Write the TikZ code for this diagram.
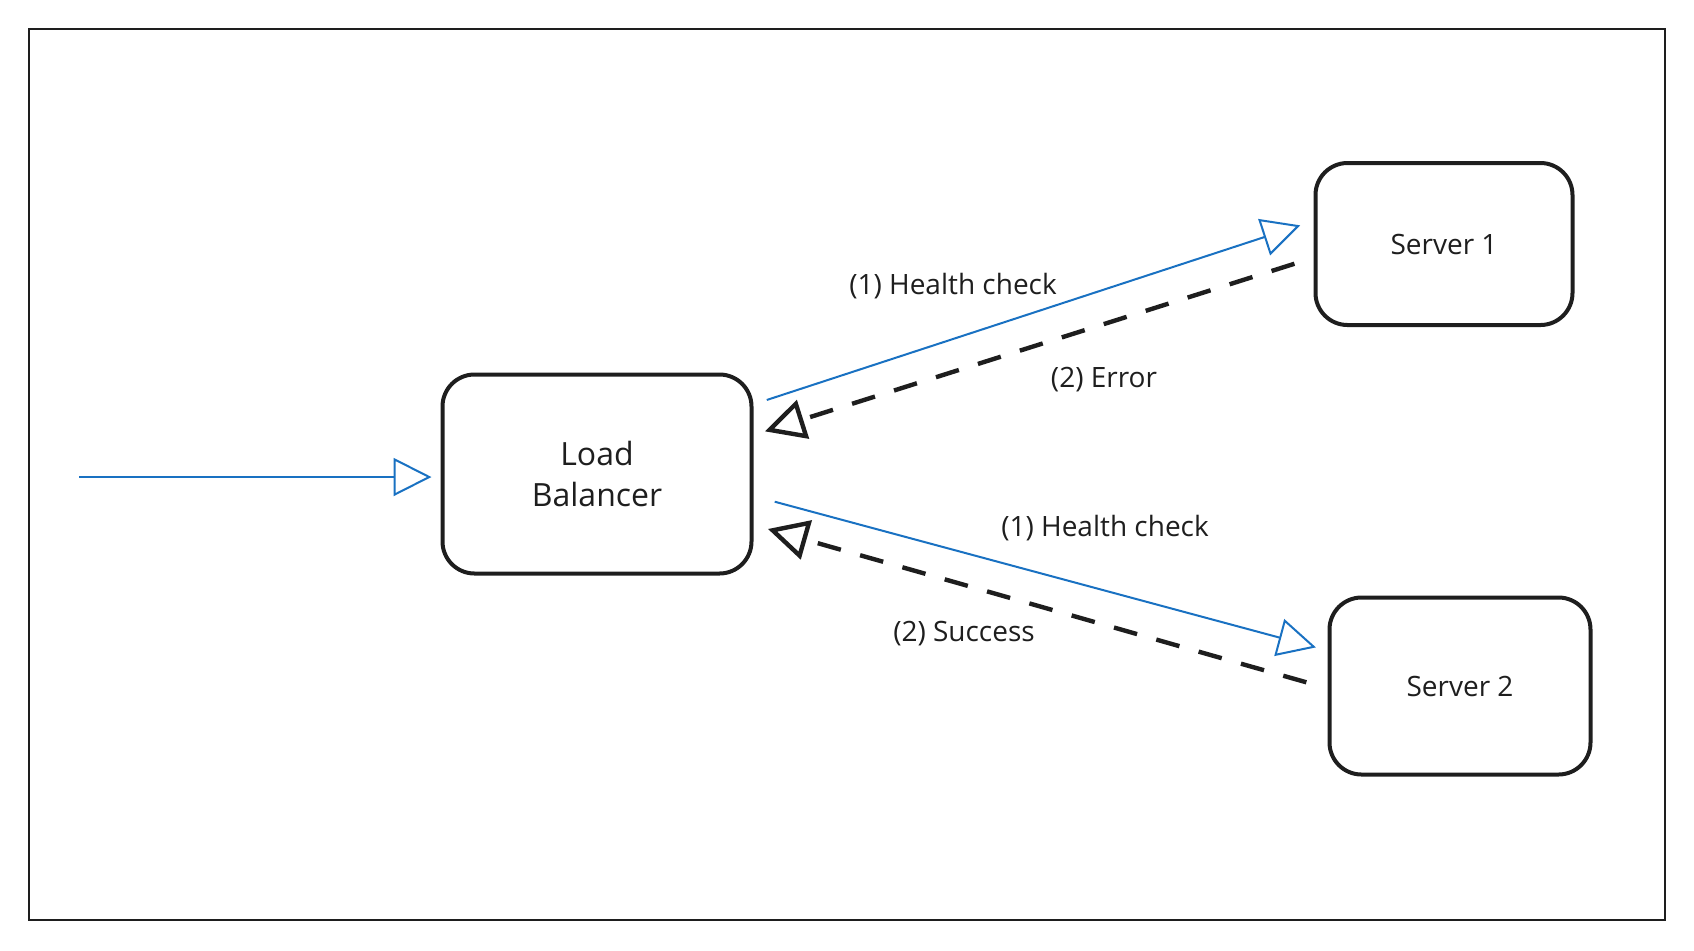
\documentclass[tikz,border=0pt]{standalone}
\usepackage{fontspec}
\setmainfont{Open Sans}
\usetikzlibrary{arrows.meta}
\definecolor{ink}{HTML}{1E1E1E}
\definecolor{linkblue}{HTML}{1971C2}
\tikzset{
box/.style={rectangle, draw=ink, line width=2pt, rounded corners=16pt, inner sep=0pt, text=ink},
lbl/.style={text=ink, font=\fontsize{14}{16}\selectfont, inner sep=1pt},
req/.style={draw=linkblue, line width=1pt, -{Triangle[open, length=19pt, width=19pt]}},
resp/.style={draw=ink, line width=2.2pt, dash pattern=on 12pt off 10pt, -{Triangle[open, length=20pt, width=20pt]}}
}

\begin{document}
\begin{tikzpicture}[x=0.5pt, y=-0.5pt]
\useasboundingbox (0,0) rectangle (1694,950);
\draw[ink, line width=1pt] (29,29) rectangle (1665,920);

\node[box, minimum width=154.5pt, minimum height=99.5pt, align=center, font=\fontsize{16}{20.5}\selectfont] (lb) at (597,474) {Load\\Balancer};
\node[box, minimum width=128.5pt, minimum height=81pt, font=\fontsize{14}{16}\selectfont] (s1) at (1444,244) {Server 1};
\node[box, minimum width=130.5pt, minimum height=88.5pt, font=\fontsize{14}{16}\selectfont] (s2) at (1460,686) {Server 2};

\coordinate (in) at (79,477);
\draw[req, shorten >=4.5pt] (in) -- (in -| lb.west);

\draw[req, shorten <=7pt, shorten >=7pt] (lb.24) -- (s1.170);
\draw[resp, shorten <=10pt, shorten >=6pt] (s1.186) -- (lb.14);
\draw[req, shorten <=11pt, shorten >=6pt] (lb.-8) -- (s2.165);
\draw[resp, shorten <=11pt, shorten >=7.5pt] (s2.181) -- (lb.-18);

\node[lbl] (hc1) at (953,286) {(1) Health check};
\node[lbl] (err) at (1104,380) {(2) Error};
\node[lbl] (hc2) at (1105,528) {(1) Health check};
\node[lbl] (ok) at (964,634) {(2) Success};
\end{tikzpicture}
\end{document}
